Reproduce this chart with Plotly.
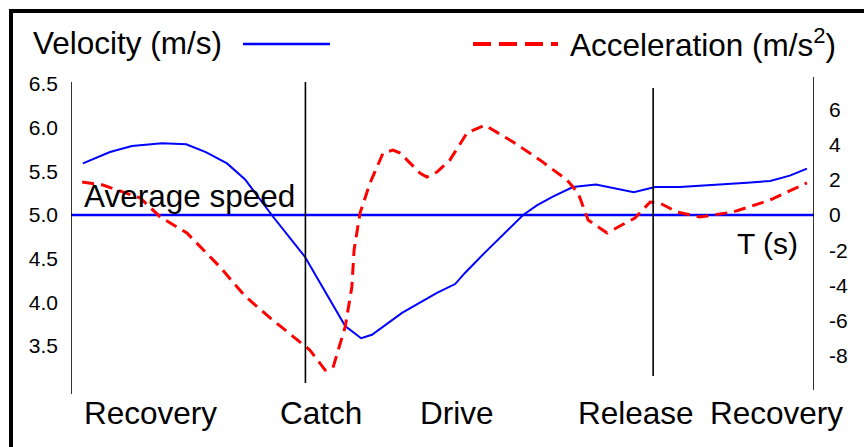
import plotly.graph_objects as go

# Stroke-cycle data (time in seconds)
vel_t = [0.032, 0.105, 0.164, 0.245, 0.310, 0.363, 0.420, 0.468, 0.544, 0.630,
         0.738, 0.781, 0.810, 0.891, 0.985, 1.034, 1.061, 1.114, 1.217, 1.254,
         1.297, 1.351, 1.413, 1.515, 1.572, 1.639, 1.820, 1.882, 1.935, 1.981]
velocity = [5.59, 5.72, 5.79, 5.82, 5.81, 5.72, 5.59, 5.41, 4.98, 4.52,
            3.73, 3.59, 3.63, 3.88, 4.11, 4.21, 4.34, 4.57, 5.00, 5.11,
            5.21, 5.32, 5.35, 5.26, 5.32, 5.32, 5.37, 5.39, 5.45, 5.53]

acc_t = [0.030, 0.086, 0.186, 0.240, 0.312, 0.401, 0.468, 0.536, 0.643, 0.684,
         0.705, 0.738, 0.756, 0.762, 0.778, 0.805, 0.840, 0.867, 0.886, 0.939,
         0.958, 0.985, 1.020, 1.066, 1.114, 1.190, 1.262, 1.335, 1.365, 1.392,
         1.443, 1.518, 1.559, 1.585, 1.631, 1.693, 1.782, 1.882, 1.981]
acceleration = [1.88, 1.70, 0.97, -0.11, -1.02, -2.95, -4.60, -5.85, -7.67, -8.81,
                -8.69, -6.36, -4.09, -1.99, 0.11, 1.82, 3.52, 3.69, 3.52, 2.39,
                2.16, 2.44, 3.13, 4.66, 5.11, 4.15, 3.13, 1.99, 1.25, -0.28,
                -1.02, -0.17, 0.74, 0.68, 0.17, -0.11, 0.17, 0.85, 1.82]

average_speed = 5.0
t_range = [0.0, 2.0]

vel_ticks = [3.5, 4.0, 4.5, 5.0, 5.5, 6.0, 6.5]
acc_ticks = [-8, -6, -4, -2, 0, 2, 4, 6]

phase_lines = [0.0, 0.631, 1.567, 2.0]
phase_labels = ["Recovery", "Catch", "Drive", "Release", "Recovery"]

W, H = 864, 447
ML, MR, MT, MB = 71, 50, 70, 50
PW, PH = W - ML - MR, H - MT - MB


def px(x):
    return (x - ML) / PW


def py(y):
    return (H - MB - y) / PH


FONT = "Liberation Sans, Arial, sans-serif"

fig = go.Figure()

fig.add_trace(go.Scatter(x=vel_t, y=velocity, mode="lines",
                         line=dict(color="#0000FF", width=2),
                         yaxis="y", showlegend=False))
fig.add_trace(go.Scatter(x=acc_t, y=acceleration, mode="lines",
                         line=dict(color="#FF0000", width=3, dash="12px,7px"),
                         yaxis="y2", showlegend=False))
# average speed reference line
fig.add_trace(go.Scatter(x=t_range, y=[average_speed, average_speed], mode="lines",
                         line=dict(color="#0000FF", width=2.5),
                         yaxis="y", showlegend=False))

shapes = []
# phase boundary lines (with their individual extents)
extents = [(82, 394), (82, 383), (88, 376), (77, 390)]
for t, (y0, y1) in zip(phase_lines, extents):
    shapes.append(dict(type="line", xref="x", yref="paper", x0=t, x1=t,
                       y0=py(y1), y1=py(y0), line=dict(color="black", width=1.6)))

# legend swatches
shapes.append(dict(type="line", xref="paper", yref="paper", x0=px(243), x1=px(330),
                   y0=py(44), y1=py(44), line=dict(color="#0000FF", width=2.5)))
shapes.append(dict(type="line", xref="paper", yref="paper", x0=px(473), x1=px(558),
                   y0=py(44), y1=py(44), line=dict(color="#FF0000", width=4, dash="18px,8px")))

# frame
shapes.append(dict(type="path", xref="paper", yref="paper",
                   path=f"M {px(11)},{py(460)} L {px(11)},{py(11)} L {px(880)},{py(11)}",
                   line=dict(color="black", width=4)))

annotations = []


def label(text, x, y, size=31.5, anchor="left"):
    annotations.append(dict(text=text, xref="paper", yref="paper", x=px(x), y=py(y),
                            xanchor=anchor, yanchor="middle", showarrow=False,
                            font=dict(family=FONT, size=size, color="black")))


label("Velocity (m/s)", 31, 43)
label("Acceleration (m/s<sup>2</sup>)", 568, 43)
label("Average speed", 82, 196)
label("T (s)", 735, 244, size=30)
for text, x in zip(phase_labels, [82, 278, 418, 576, 708]):
    label(text, x, 413)

fig.update_layout(
    width=W, height=H,
    margin=dict(l=ML, r=MR, t=MT, b=MB),
    paper_bgcolor="white", plot_bgcolor="white",
    font=dict(family=FONT, color="black"),
    xaxis=dict(range=t_range, visible=False, showgrid=False),
    yaxis=dict(range=[5 - (H - MB - 215) / 87.4, 5 + (215 - MT) / 87.4],
               tickvals=vel_ticks, ticktext=[f"{v:.1f}" for v in vel_ticks],
               showgrid=False, zeroline=False, showline=False, ticks="",
               tickfont=dict(size=21, family=FONT), ticklabelstandoff=12),
    yaxis2=dict(range=[-(H - MB - 215) / 17.6, (215 - MT) / 17.6],
                overlaying="y", side="right",
                tickvals=acc_ticks, ticktext=[str(v) for v in acc_ticks],
                showgrid=False, zeroline=False, showline=False, ticks="",
                tickfont=dict(size=21, family=FONT), ticklabelstandoff=14),
    shapes=shapes,
    annotations=annotations,
    showlegend=False,
)

fig.write_html("out.html")
